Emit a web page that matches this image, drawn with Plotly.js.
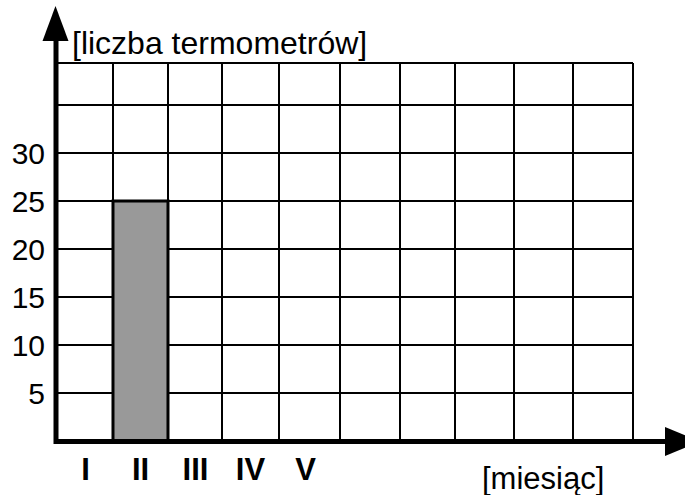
<!DOCTYPE html>
<html>
<head>
<meta charset="utf-8">
<script src="https://cdn.plot.ly/plotly-3.0.1.min.js"></script>
<style>
  html, body { margin: 0; padding: 0; background: #ffffff; }
  #chart { width: 685px; height: 495px; }
</style>
</head>
<body>
<div id="chart"></div>
<script>
// ---- data ----
const months = ['I', 'II', 'III', 'IV', 'V'];
const thermometers = [null, 25, null, null, null];
const yTickVals = [0, 5, 10, 15, 20, 25, 30, 35];
const yTickText = ['', '5', '10', '15', '20', '25', '30', ''];
const yTitle = '[liczba termometrów]';
const xTitle = '[miesiąc]';

// ---- layout helpers (pixel -> paper for decorations) ----
const W = 685, H = 495;
const L = 57, R = 633, T = 63, B = 441;
const px = v => (v - L) / (R - L);
const py = v => (B - v) / (B - T);
// vertical grid line positions of the hand-drawn grid (in pixel-like units of xaxis2)
const gridX = [113, 168, 222, 279, 340, 400, 455, 514, 573];

const font = 'Arial, "Liberation Sans", sans-serif';

const traces = [
  {
    type: 'bar',
    x: months,
    y: thermometers,
    xaxis: 'x',
    yaxis: 'y',
    marker: { color: '#999999', line: { color: '#000000', width: 3 } },
    hoverinfo: 'skip'
  },
  {
    type: 'scatter',
    x: [],
    y: [],
    xaxis: 'x2',
    yaxis: 'y',
    hoverinfo: 'skip',
    showlegend: false
  }
];

const layout = {
  width: W,
  height: H,
  margin: { l: L, r: W - R, t: T, b: H - B, pad: 0 },
  paper_bgcolor: '#ffffff',
  plot_bgcolor: '#ffffff',
  showlegend: false,
  bargap: 0,
  hovermode: false,
  xaxis: {
    type: 'category',
    categoryorder: 'array',
    categoryarray: months,
    range: [-0.518, 9.955],
    showgrid: false,
    showline: false,
    zeroline: false,
    ticks: '',
    ticklabelstandoff: 7,
    tickfont: { family: font, size: 31, color: '#000000', weight: 'bold' },
    fixedrange: true
  },
  xaxis2: {
    overlaying: 'x',
    anchor: 'y',
    range: [L, R],
    tickvals: gridX,
    showticklabels: false,
    showgrid: true,
    gridcolor: '#000000',
    gridwidth: 2,
    zeroline: false,
    showline: false,
    ticks: '',
    fixedrange: true
  },
  yaxis: {
    range: [0, 39.375],
    tickvals: yTickVals,
    ticktext: yTickText,
    showgrid: true,
    gridcolor: '#000000',
    gridwidth: 2,
    zeroline: false,
    showline: false,
    ticks: '',
    ticklabelstandoff: 11,
    tickfont: { family: font, size: 30, color: '#000000' },
    fixedrange: true
  },
  shapes: [
    // top & right frame of the grid
    { type: 'line', xref: 'paper', yref: 'paper', x0: 0, x1: 1, y0: 1, y1: 1, line: { color: '#000', width: 2 } },
    { type: 'line', xref: 'paper', yref: 'paper', x0: 1, x1: 1, y0: 0, y1: 1, line: { color: '#000', width: 2 } },
    // y axis with arrow
    { type: 'line', xref: 'paper', yref: 'paper', x0: px(56), x1: px(56), y0: py(444), y1: py(38), line: { color: '#000', width: 5 } },
    { type: 'path', xref: 'paper', yref: 'paper',
      path: `M ${px(42.5)},${py(41)} L ${px(55.5)},${py(6)} L ${px(68.5)},${py(41)} Z`,
      fillcolor: '#000', line: { color: '#000', width: 0 } },
    // x axis with arrow
    { type: 'line', xref: 'paper', yref: 'paper', x0: px(54), x1: px(668), y0: py(441.5), y1: py(441.5), line: { color: '#000', width: 5 } },
    { type: 'path', xref: 'paper', yref: 'paper',
      path: `M ${px(665)},${py(427)} L ${px(700)},${py(441.5)} L ${px(665)},${py(456)} Z`,
      fillcolor: '#000', line: { color: '#000', width: 0 } }
  ],
  annotations: [
    { xref: 'paper', yref: 'paper', x: px(70), y: py(43), xanchor: 'left', yanchor: 'middle',
      text: yTitle, showarrow: false, font: { family: font, size: 32, color: '#000' } },
    { xref: 'paper', yref: 'paper', x: px(480), y: py(478), xanchor: 'left', yanchor: 'middle',
      text: xTitle, showarrow: false, font: { family: font, size: 31, color: '#000' } }
  ]
};

Plotly.newPlot('chart', traces, layout, { displayModeBar: false, staticPlot: true });
</script>
</body>
</html>
